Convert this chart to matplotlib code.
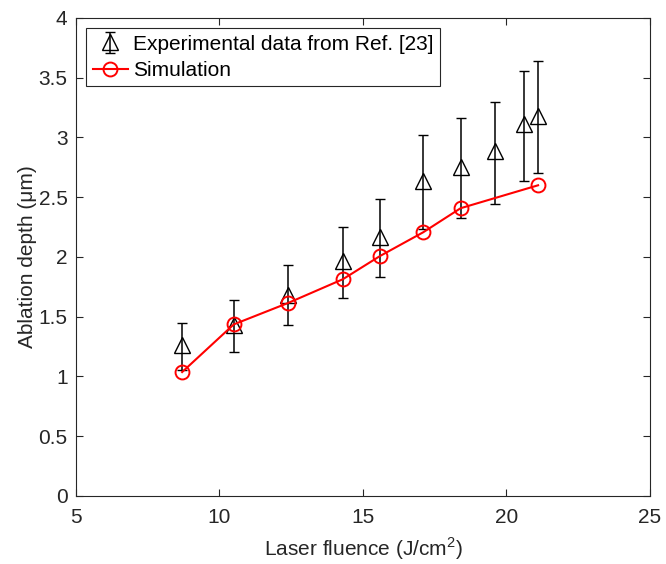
import matplotlib.pyplot as plt

plt.rcParams['font.family'] = ['Liberation Sans', 'DejaVu Sans']
plt.rcParams['mathtext.fontset'] = 'custom'
plt.rcParams['mathtext.rm'] = 'Liberation Sans'

# experimental data (Ref. [23])
exp_x = [8.7, 10.5, 12.4, 14.3, 15.6, 17.1, 18.4, 19.6, 20.6, 21.1]
exp_y = [1.26, 1.43, 1.685, 1.97, 2.165, 2.635, 2.75, 2.885, 3.11, 3.18]
exp_hi = [1.45, 1.64, 1.93, 2.255, 2.485, 3.017, 3.163, 3.30, 3.555, 3.64]
exp_lo = [1.055, 1.205, 1.43, 1.66, 1.835, 2.235, 2.325, 2.445, 2.64, 2.705]

# simulation
sim_x = [8.7, 10.5, 12.4, 14.3, 15.6, 17.1, 18.4, 21.1]
sim_y = [1.037, 1.436, 1.616, 1.814, 2.009, 2.207, 2.408, 2.60]

yerr = [[y - lo for y, lo in zip(exp_y, exp_lo)],
        [hi - y for y, hi in zip(exp_y, exp_hi)]]

fig = plt.figure(figsize=(6.66, 5.64), dpi=100)
ax = fig.add_axes([0.114, 0.1206, 0.862, 0.8475])

eb = ax.errorbar(exp_x, exp_y, yerr=yerr, fmt='^', color='black', mfc='none',
                 ms=11, mew=1.0, elinewidth=1.1, capsize=3.6, capthick=1.1,
                 label='Experimental data from Ref. [23]', zorder=2)
sim, = ax.plot(sim_x, sim_y, '-o', color='red', mfc='none', ms=10, mew=1.4,
               lw=1.5, label='Simulation', zorder=3)

ax.set_xlim(5, 25)
ax.set_ylim(0, 4)
ax.set_xticks([5, 10, 15, 20, 25])
ax.set_yticks([0, 0.5, 1, 1.5, 2, 2.5, 3, 3.5, 4])
ax.set_yticklabels(['0', '0.5', '1', '1.5', '2', '2.5', '3', '3.5', '4'])
ax.tick_params(direction='in', top=True, right=True, length=5, width=0.8,
               labelsize=15, colors='#262626')
ax.tick_params(axis='x', pad=8.5)
ax.tick_params(axis='y', pad=6)
for s in ax.spines.values():
    s.set_color('#262626')
    s.set_linewidth(0.8)

ax.set_xlabel('Laser fluence (J/cm$^\\mathregular{2}$)', fontsize=15,
              color='#262626', labelpad=6)
ax.set_ylabel('Ablation depth (\u03bcm)', fontsize=15, color='#262626',
              labelpad=1)

leg = ax.legend([eb, sim], ['Experimental data from Ref. [23]', 'Simulation'],
                loc='upper left', fontsize=15, handlelength=1.7,
                handletextpad=0.23, borderpad=0.3, labelspacing=0.35,
                borderaxespad=0.5, fancybox=False, framealpha=1)
leg.get_frame().set_edgecolor('#262626')
leg.get_frame().set_linewidth(0.8)

fig.savefig('out.png', dpi=100)
